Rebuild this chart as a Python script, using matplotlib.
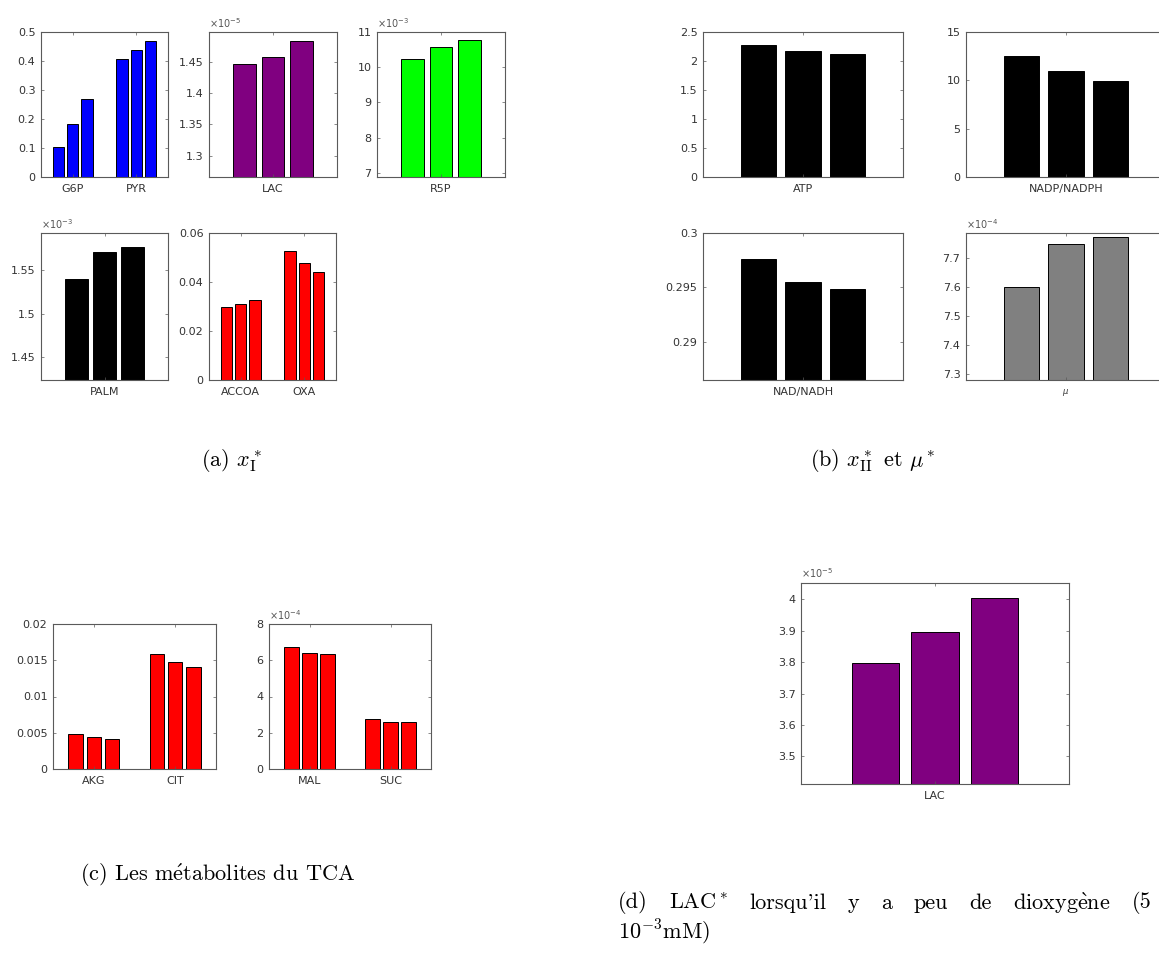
import numpy as np
import matplotlib
matplotlib.use('Agg')
import matplotlib.pyplot as plt

plt.rc('font', family='DejaVu Sans', size=8)

# ---- data (exponents kept separately) ----
# (a) x_I*
g6p_pyr_labels = ['G6P', 'PYR']
g6p_pyr = [[0.102, 0.182, 0.270], [0.406, 0.439, 0.468]]
lac_a = [1.446, 1.457, 1.482]          # x 1e-5
r5p = [10.22, 10.58, 10.76]            # x 1e-3
palm = [1.540, 1.570, 1.576]           # x 1e-3
accoa_oxa_labels = ['ACCOA', 'OXA']
accoa_oxa = [[0.0299, 0.0310, 0.0325], [0.0527, 0.0479, 0.0440]]

# (b) x_II* and mu*
atp = [2.270, 2.178, 2.121]
nadp = [12.52, 10.93, 9.97]
nad = [0.2976, 0.29548, 0.29483]
mu = [7.602, 7.749, 7.774]             # x 1e-4

# (c) TCA metabolites
akg_cit_labels = ['AKG', 'CIT']
akg_cit = [[0.00487, 0.00437, 0.00414], [0.01591, 0.01471, 0.01407]]
mal_suc_labels = ['MAL', 'SUC']
mal_suc = [[6.75, 6.38, 6.33], [2.74, 2.59, 2.59]]   # x 1e-4

# (d) LAC* with low oxygen
lac_d = [3.796, 3.895, 4.004]          # x 1e-5

W, H = 1159, 973
fig = plt.figure(figsize=(W / 100, H / 100), dpi=100)

SPINE = '#5a5a5a'
TXT = '#333333'


def panel(box, groups, labels, color, ylim, yticks, expo=None, edge='black', xfont=None):
    """box = (left, top, right, bottom) in pixels; groups = list of 3-value lists."""
    l, t, r, b = box
    ax = fig.add_axes([l / W, 1 - b / H, (r - l) / W, (b - t) / H])
    n = len(groups)
    step = 2 / 9.0
    for i, vals in enumerate(groups):
        xs = (i + 1) + step * (np.arange(len(vals)) - 1)
        ax.bar(xs, vals, width=0.8 * step, color=color, edgecolor=edge, linewidth=0.7, bottom=0)
    ax.set_xlim(0.5, n + 0.5)
    ax.set_ylim(*ylim)
    ax.set_xticks(np.arange(1, n + 1))
    ax.set_xticklabels(labels, fontsize=xfont if xfont else 8)
    ax.set_yticks(yticks)
    ax.set_yticklabels([f'{v:g}' for v in yticks])
    ax.tick_params(direction='in', top=True, right=True, length=2.2, width=0.5,
                   colors=SPINE, labelcolor=TXT)
    ax.tick_params(axis='x', pad=5)
    ax.tick_params(axis='y', pad=4)
    for s in ax.spines.values():
        s.set_color(SPINE)
        s.set_linewidth(0.8)
    if expo is not None:
        ax.text(0.0, 1.015, r'$\times10^{%d}$' % expo, transform=ax.transAxes,
                ha='left', va='bottom', fontsize=7, color='#555555')
    return ax


# (a)
panel((41, 32, 168, 177), g6p_pyr, g6p_pyr_labels, '#0000ff', (0, 0.5),
      [0, 0.1, 0.2, 0.3, 0.4, 0.5])
panel((209, 32, 337, 177), [lac_a], ['LAC'], '#800080', (1.266, 1.497),
      [1.3, 1.35, 1.4, 1.45], expo=-5)
panel((377, 32, 505, 177), [r5p], ['R5P'], '#00ff00', (6.877, 11),
      [7, 8, 9, 10, 11], expo=-3)
panel((41, 233, 168, 380), [palm], ['PALM'], 'black', (1.424, 1.592),
      [1.45, 1.5, 1.55], expo=-3)
panel((209, 233, 336, 380), accoa_oxa, accoa_oxa_labels, '#ff0000', (0, 0.06),
      [0, 0.02, 0.04, 0.06])

# (b)
panel((703, 32, 903, 177), [atp], ['ATP'], 'black', (0, 2.5),
      [0, 0.5, 1, 1.5, 2, 2.5])
panel((966, 32, 1166, 177), [nadp], ['NADP/NADPH'], 'black', (0, 15),
      [0, 5, 10, 15])
panel((703, 233, 903, 380), [nad], ['NAD/NADH'], 'black', (0.28646, 0.3),
      [0.29, 0.295, 0.3])
panel((966, 233, 1166, 380), [mu], [r'$\mu$'], '#808080', (7.278, 7.788),
      [7.3, 7.4, 7.5, 7.6, 7.7], expo=-4, xfont=6)

# (c)
panel((53, 624, 216, 769), akg_cit, akg_cit_labels, '#ff0000', (0, 0.02),
      [0, 0.005, 0.01, 0.015, 0.02])
panel((269, 624, 431, 769), mal_suc, mal_suc_labels, '#ff0000', (0, 8),
      [0, 2, 4, 6, 8], expo=-4)

# (d)
panel((801, 583, 1069, 784), [lac_d], ['LAC'], '#800080', (3.412, 4.052),
      [3.5, 3.6, 3.7, 3.8, 3.9, 4.0], expo=-5)

# ---- captions (LaTeX-like) ----
cap = dict(fontsize=16, family=['cmr10', 'DejaVu Serif'], math_fontfamily='cm', color='black')
fig.text(232 / W, 1 - 460 / H, r'(a) $x^*_{\mathrm{I}}$', ha='center', va='center', **cap)
fig.text(873 / W, 1 - 460 / H, r'(b) $x^*_{\mathrm{II}}$ et $\mu^*$', ha='center', va='center', **cap)
fig.text(80 / W, 1 - 875 / H, r'(c) Les m$\mathrm{\acute{e}}$tabolites du TCA',
         ha='left', va='center', **cap)

# justified first line of (d)
words = ['(d)', r'LAC$^*$', "lorsqu'il", 'y', 'a', 'peu', 'de',
         r'dioxyg$\mathrm{\grave{e}}$ne', '(5']
x0, x1 = 618, 1152
texts = [fig.text(0, 1 - 903 / H, w, ha='left', va='center', **cap) for w in words]
fig.canvas.draw()
rend = fig.canvas.get_renderer()
widths = [t.get_window_extent(rend).width for t in texts]
gap = ((x1 - x0) - sum(widths)) / (len(words) - 1)
x = x0
for t, w in zip(texts, widths):
    t.set_x(x / W)
    x += w + gap
fig.text(x0 / W, 1 - 932 / H, r'$10^{-3}$mM)', ha='left', va='center', **cap)

fig.savefig('out.png', dpi=100)
